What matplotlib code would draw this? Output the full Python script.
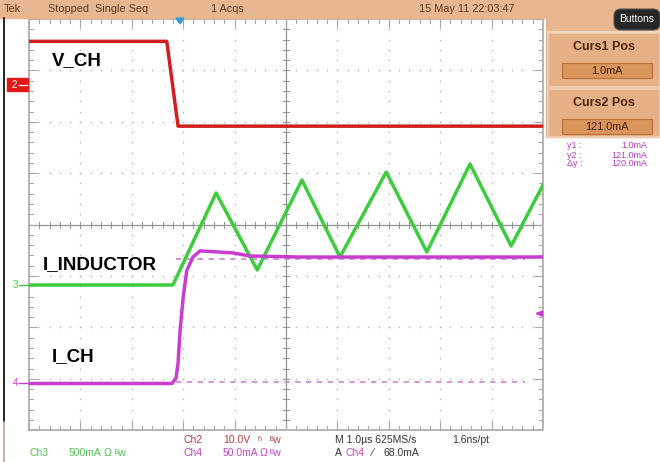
import matplotlib
matplotlib.use("Agg")
import matplotlib.pyplot as plt
from matplotlib.patches import Rectangle, FancyBboxPatch, Polygon
import numpy as np

plt.rcParams['font.family'] = ['Liberation Sans', 'DejaVu Sans']

# ---------------- data (physical units) ----------------
# Ch2  V_CH  (volts), 10 V/div
vch_t = [-2.95, -0.27, -0.05, 7.05]          # µs
vch_v = [8.1, 8.1, -8.4, -8.4]               # V
# Ch3  I_INDUCTOR (mA), 500 mA/div
ind_t = [-2.95, -0.15, 0.69, 1.49, 2.36, 3.10, 4.00, 4.79, 5.63, 6.43, 7.05]
ind_i = [0, 0, 895, 146, 1021, 272, 1099, 321, 1177, 379, 973]
# Ch4  I_CH (mA), 50 mA/div
ich_t = [-2.95, -0.17, -0.09, -0.05, -0.01, 0.05, 0.12, 0.24, 0.38, 1.02, 1.35, 2.32, 7.05]
ich_i = [0, 0, 5, 20, 52, 84, 110, 123, 129, 127, 124, 123, 123]

curs1_ma = 1.0
curs2_ma = 121.0
trig_ma = 68.0

ch_scale = {'ch2': 10.0, 'ch3': 500.0, 'ch4': 50.0}     # units per division
ch_offset = {'ch2': 2.755, 'ch3': -1.175, 'ch4': -3.091}  # ground position (div)

RED = '#d21e1e'
GREEN = '#3ccc3c'
MAG = '#c83ccf'
TAN = '#e8b78f'
GRID = '#a8a8a8'

def to_div(vals, ch):
    return np.asarray(vals, float) / ch_scale[ch] + ch_offset[ch]

fig = plt.figure(figsize=(6.6, 4.62), dpi=100)
fig.patch.set_facecolor('white')

# main graticule axes: x in µs (10 div), y in divisions
X0, X1 = -2.95, 7.05
ax = fig.add_axes([29 / 660, 1 - 430.2 / 462, 514 / 660, 411.2 / 462])
ax.set_xlim(X0, X1)
ax.set_ylim(-4, 4)
ax.axis('off')
ax.set_zorder(2)

# dotted grid
for k in range(1, 10):
    if k == 5:
        continue
    xs = X0 + k
    ys = np.arange(-4 + 0.2, 4 - 0.1, 0.2)
    ax.plot(np.full_like(ys, xs), ys, ls='none', marker='s', ms=1.0, color='#b0b0b0', mew=0)
for j in range(-3, 4):
    if j == 0:
        continue
    xs = np.arange(X0 + 0.2, X1 - 0.1, 0.2)
    ax.plot(xs, np.full_like(xs, j), ls='none', marker='s', ms=1.0, color='#b0b0b0', mew=0)

# center cross with ticks
xc = X0 + 5
ax.plot([X0, X1], [0, 0], color='#909090', lw=0.9)
ax.plot([xc, xc], [-4, 4], color='#909090', lw=0.9)
tl = 0.06
for yy in np.arange(-4, 4.01, 0.2):
    ax.plot([xc - tl, xc + tl], [yy, yy], color='#909090', lw=0.7)
for xx in np.arange(X0, X1 + 0.01, 0.2):
    ax.plot([xx, xx], [-tl, tl], color='#909090', lw=0.7)

# border with inward ticks
ax.plot([X0, X1, X1, X0, X0], [-4, -4, 4, 4, -4], color=GRID, lw=1.2, clip_on=False)
for i, xx in enumerate(np.arange(X0, X1 + 0.01, 0.2)):
    L = 0.16 if i % 5 == 0 else 0.08
    ax.plot([xx, xx], [-4, -4 + L], color=GRID, lw=0.8)
    ax.plot([xx, xx], [4, 4 - L], color=GRID, lw=0.8)
for i, yy in enumerate(np.arange(-4, 4.01, 0.2)):
    L = 0.16 if i % 5 == 0 else 0.08
    ax.plot([X0, X0 + L], [yy, yy], color=GRID, lw=0.8)
    ax.plot([X1, X1 - L], [yy, yy], color=GRID, lw=0.8)

# cursors (dashed, ch4)
for c in (curs1_ma, curs2_ma):
    ax.plot([-0.09, 6.70], [to_div([c], 'ch4')[0]] * 2, color='#d58ad8', lw=1.3,
            dashes=(3, 3), zorder=2)

# traces
ax.plot(vch_t, to_div(vch_v, 'ch2'), color=RED, lw=2.5, zorder=5, solid_joinstyle='round')
ax.plot(ind_t, to_div(ind_i, 'ch3'), color=GREEN, lw=2.5, zorder=4, solid_joinstyle='round')
ax.plot(ich_t, to_div(ich_i, 'ch4'), color=MAG, lw=2.5, zorder=6, solid_joinstyle='round')

# trigger level arrow (right edge)
ty = to_div([trig_ma], 'ch4')[0]
ax.annotate('', xy=(X1 - 0.2, ty), xytext=(X1 - 0.02, ty),
            arrowprops=dict(arrowstyle='-|>', color=MAG, lw=1.5, mutation_scale=8),
            annotation_clip=False)

# trace labels
lab_kw = dict(fontsize=13.5, fontweight='bold', color='black', va='center', ha='left',
              family='Liberation Sans')

# ---------------- overlay (pixel coordinates) ----------------
ov = fig.add_axes([0, 0, 1, 1])
ov.set_xlim(0, 660)
ov.set_ylim(462, 0)
ov.axis('off')
ov.set_zorder(3)
ov.patch.set_alpha(0)

ov.text(52, 61, 'V_CH', **lab_kw)
ov.text(43, 265, 'I_INDUCTOR', **lab_kw)
ov.text(52, 357, 'I_CH', **lab_kw)

# top bar
ov.add_patch(Rectangle((0, 0), 660, 18, color=TAN, zorder=1))
tb = dict(fontsize=7.8, color='#5a3a22', va='center', ha='left')
ov.text(4, 8.5, 'Tek', **tb)
ov.text(48, 8.5, 'Stopped  Single Seq', **tb)
ov.text(211, 8.5, '1 Acqs', **tb)
ov.text(419, 8.5, '15 May 11 22:03:47', **tb)

# trigger position marker
ov.add_patch(Polygon([[176, 18], [184, 18], [180, 24]], closed=True, color='#3a9ad8', zorder=4))

# right panel
ov.add_patch(Rectangle((546, 0), 114, 137, color=TAN, zorder=1))
ov.add_patch(FancyBboxPatch((614, 9), 46, 21, boxstyle='round,pad=0,rounding_size=7',
                            fc='#262626', ec='#555555', lw=0.8, zorder=3))
ov.text(637, 19.5, 'Buttons', fontsize=7.5, color='white', ha='center', va='center', zorder=4)
ov.plot([548, 660], [31.5, 31.5], color='#f4d7bf', lw=1.5, zorder=2)
for (y0, y1, title, val) in [(33, 87, 'Curs1 Pos', '1.0mA'), (89, 137, 'Curs2 Pos', '121.0mA')]:
    ov.add_patch(Rectangle((548, y0), 112, y1 - y0, fc='#e5b086', ec='#f2d0b4', lw=1.2, zorder=2))
    ov.text(604, y0 + 14, title, fontsize=9, fontweight='bold', color='#4a2812',
            ha='center', va='center', zorder=4)
    ov.add_patch(Rectangle((562, y0 + 30), 90, 15, fc='#d9955c', ec='#b7703c', lw=0.8, zorder=3))
    ov.text(607, y0 + 37.5, val, fontsize=7.8, color='#3a2010', ha='center', va='center', zorder=4)
mk = dict(fontsize=6.5, color='#b83cc8', va='center')
for yy, a, b in [(146, 'y1 :', '1.0mA'), (155, 'y2 :', '121.0mA'), (164, '\u0394y :', '120.0mA')]:
    ov.text(567, yy, a, ha='left', **mk)
    ov.text(647, yy, b, ha='right', **mk)

# left border line
ov.plot([4, 4], [18, 422], color='black', lw=1.2)
ov.plot([4, 4], [422, 462], color='#c9a27e', lw=1.2)

# channel ground markers
ov.add_patch(Rectangle((7, 78), 21, 13, color='#e01818', zorder=4))
ov.text(12, 84.5, '2', fontsize=7, color='white', ha='left', va='center', zorder=5)
ov.plot([19, 27], [84.5, 84.5], color='white', lw=0.9, zorder=5)
ov.text(13, 285, '3', fontsize=7, color=GREEN, ha='left', va='center')
ov.plot([19, 29], [285, 285], color=GREEN, lw=1.0)
ov.text(13, 383, '4', fontsize=7, color=MAG, ha='left', va='center')
ov.plot([19, 29], [383, 383], color=MAG, lw=1.0)

# bottom readouts
bt = dict(fontsize=7.5, va='center', ha='left')
C2 = '#b84040'; C3 = '#4fc44f'; C4 = '#c247c8'; CK = '#333333'
ov.text(183, 440, 'Ch2', color=C2, **bt)
ov.text(223, 440, '10.0V', color=C2, **bt)
ov.text(258, 440, '\u02b1', color=C2, **bt)
ov.text(270, 440, '\u1d2ew', color=C2, **bt)
ov.text(30, 453, 'Ch3', color=C3, **bt)
ov.text(69, 453, '500mA', color=C3, **bt)
ov.text(104, 453, '\u03a9', color=C3, **bt)
ov.text(115, 453, '\u1d2ew', color=C3, **bt)
ov.text(183, 453, 'Ch4', color=C4, **bt)
ov.text(223, 453, '50.0mA', color=C4, **bt)
ov.text(260, 453, '\u03a9', color=C4, **bt)
ov.text(270, 453, '\u1d2ew', color=C4, **bt)
ov.text(335, 440, 'M 1.0\u00b5s 625MS/s', color=CK, **bt)
ov.text(452, 440, '1.6ns/pt', color=CK, **bt)
ov.text(335, 453, 'A', color=CK, **bt)
ov.text(346, 453, 'Ch4', color=C4, **bt)
ov.text(371, 453, '\u2044', color=CK, **bt)
ov.text(383, 453, f'{trig_ma:.1f}mA', color=CK, **bt)

fig.savefig('out.png', dpi=100)
